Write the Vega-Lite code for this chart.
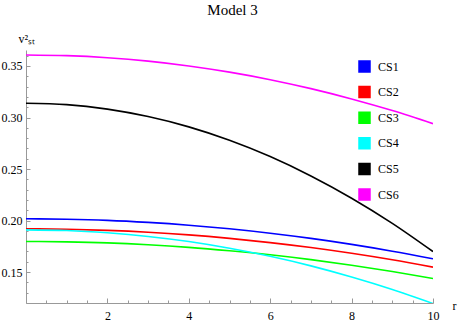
{
  "$schema": "https://vega.github.io/schema/vega-lite/v6.json",
  "width": 407,
  "height": 253,
  "autosize": {"type": "none"},
  "padding": {"left": 26, "top": 50, "right": 27, "bottom": 21},
  "background": "white",
  "title": {"text": "Model 3", "font": "Liberation Serif", "fontSize": 15, "fontWeight": "normal", "color": "black", "offset": 14, "dx": 3},
  "config": {"view": {"stroke": null}},
  "data": {"values": [
    {"r":0,"v":0.2017,"s":"CS1"},{"r":1,"v":0.2013,"s":"CS1"},{"r":2,"v":0.2002,"s":"CS1"},{"r":3,"v":0.1982,"s":"CS1"},{"r":4,"v":0.1955,"s":"CS1"},{"r":5,"v":0.1920,"s":"CS1"},{"r":6,"v":0.1877,"s":"CS1"},{"r":7,"v":0.1827,"s":"CS1"},{"r":8,"v":0.1769,"s":"CS1"},{"r":9,"v":0.1703,"s":"CS1"},{"r":10,"v":0.1629,"s":"CS1"},
    {"r":0,"v":0.1920,"s":"CS2"},{"r":1,"v":0.1916,"s":"CS2"},{"r":2,"v":0.1905,"s":"CS2"},{"r":3,"v":0.1887,"s":"CS2"},{"r":4,"v":0.1861,"s":"CS2"},{"r":5,"v":0.1827,"s":"CS2"},{"r":6,"v":0.1786,"s":"CS2"},{"r":7,"v":0.1738,"s":"CS2"},{"r":8,"v":0.1682,"s":"CS2"},{"r":9,"v":0.1619,"s":"CS2"},{"r":10,"v":0.1548,"s":"CS2"},
    {"r":0,"v":0.1797,"s":"CS3"},{"r":1,"v":0.1793,"s":"CS3"},{"r":2,"v":0.1783,"s":"CS3"},{"r":3,"v":0.1765,"s":"CS3"},{"r":4,"v":0.1740,"s":"CS3"},{"r":5,"v":0.1707,"s":"CS3"},{"r":6,"v":0.1668,"s":"CS3"},{"r":7,"v":0.1621,"s":"CS3"},{"r":8,"v":0.1567,"s":"CS3"},{"r":9,"v":0.1506,"s":"CS3"},{"r":10,"v":0.1438,"s":"CS3"},
    {"r":0,"v":0.1910,"s":"CS4"},{"r":1,"v":0.1903,"s":"CS4"},{"r":2,"v":0.1881,"s":"CS4"},{"r":3,"v":0.1846,"s":"CS4"},{"r":4,"v":0.1796,"s":"CS4"},{"r":5,"v":0.1731,"s":"CS4"},{"r":6,"v":0.1653,"s":"CS4"},{"r":7,"v":0.1560,"s":"CS4"},{"r":8,"v":0.1452,"s":"CS4"},{"r":9,"v":0.1331,"s":"CS4"},{"r":10,"v":0.1195,"s":"CS4"},
    {"r":0,"v":0.3139,"s":"CS5"},{"r":1,"v":0.3125,"s":"CS5"},{"r":2,"v":0.3081,"s":"CS5"},{"r":3,"v":0.3009,"s":"CS5"},{"r":4,"v":0.2909,"s":"CS5"},{"r":5,"v":0.2779,"s":"CS5"},{"r":6,"v":0.2621,"s":"CS5"},{"r":7,"v":0.2433,"s":"CS5"},{"r":8,"v":0.2217,"s":"CS5"},{"r":9,"v":0.1973,"s":"CS5"},{"r":10,"v":0.1699,"s":"CS5"},
    {"r":0,"v":0.3607,"s":"CS6"},{"r":1,"v":0.3600,"s":"CS6"},{"r":2,"v":0.3580,"s":"CS6"},{"r":3,"v":0.3547,"s":"CS6"},{"r":4,"v":0.3500,"s":"CS6"},{"r":5,"v":0.3440,"s":"CS6"},{"r":6,"v":0.3367,"s":"CS6"},{"r":7,"v":0.3280,"s":"CS6"},{"r":8,"v":0.3180,"s":"CS6"},{"r":9,"v":0.3067,"s":"CS6"},{"r":10,"v":0.2940,"s":"CS6"}
  ]},
  "mark": {"type": "line", "interpolate": "monotone", "strokeWidth": 1.6, "clip": true},
  "encoding": {
    "x": {
      "field": "r", "type": "quantitative",
      "scale": {"domain": [0, 10], "nice": false, "zero": false},
      "axis": {
        "title": "r", "titleFont": "Liberation Serif", "titleFontSize": 12, "titleFontWeight": "normal", "titleColor": "black",
        "titleX": 428, "titleY": 2, "titleAlign": "center", "titleBaseline": "middle", "titleAngle": 0,
        "values": [0.5,1,1.5,2,2.5,3,3.5,4,4.5,5,5.5,6,6.5,7,7.5,8,8.5,9,9.5,10],
        "labelExpr": "abs(datum.value/2 - round(datum.value/2)) < 0.001 ? format(datum.value, 'd') : ''",
        "labelOverlap": false, "labelFlush": false,
        "labelFont": "Liberation Serif", "labelFontSize": 12, "labelColor": "black", "labelPadding": 12,
        "tickSize": {"condition": {"test": "abs(datum.value/2 - round(datum.value/2)) < 0.001", "value": -5}, "value": -3},
        "tickColor": "#999999", "domainColor": "#999999", "grid": false
      }
    },
    "y": {
      "field": "v", "type": "quantitative",
      "scale": {"domain": [0.12, 0.3655], "nice": false, "zero": false},
      "axis": {
        "title": "v²ₛₜ", "titleFont": "Liberation Serif", "titleFontSize": 12, "titleFontWeight": "normal", "titleColor": "black",
        "titleX": -8, "titleY": -8, "titleAlign": "left", "titleBaseline": "alphabetic", "titleAngle": 0,
        "values": [0.12,0.13,0.14,0.15,0.16,0.17,0.18,0.19,0.2,0.21,0.22,0.23,0.24,0.25,0.26,0.27,0.28,0.29,0.3,0.31,0.32,0.33,0.34,0.35,0.36],
        "labelExpr": "abs(datum.value*20 - round(datum.value*20)) < 0.001 ? format(datum.value, '.2f') : ''",
        "labelOverlap": false,
        "labelFont": "Liberation Serif", "labelFontSize": 12, "labelColor": "black", "labelPadding": 8,
        "tickSize": {"condition": {"test": "abs(datum.value*20 - round(datum.value*20)) < 0.001", "value": -4}, "value": -2},
        "tickColor": "#999999", "domainColor": "#999999", "grid": false
      }
    },
    "color": {
      "field": "s", "type": "nominal",
      "scale": {"domain": ["CS1","CS2","CS3","CS4","CS5","CS6"], "range": ["#0000ff","#ff0000","#00ff00","#00ffff","#000000","#ff00ff"]},
      "legend": {
        "orient": "none", "legendX": 332, "legendY": 10, "title": null, "padding": 0,
        "symbolType": "square", "symbolSize": 121, "symbolStrokeWidth": 1.5,
        "labelFont": "Liberation Serif", "labelFontSize": 12, "labelColor": "black", "labelOffset": 7,
        "rowPadding": 8.6,
        "encode": {"symbols": {"update": {"fill": {"scale": "color", "field": "value"}, "stroke": {"value": "#bbbbbb"}, "fillOpacity": {"value": 1}}}}
      }
    }
  }
}
